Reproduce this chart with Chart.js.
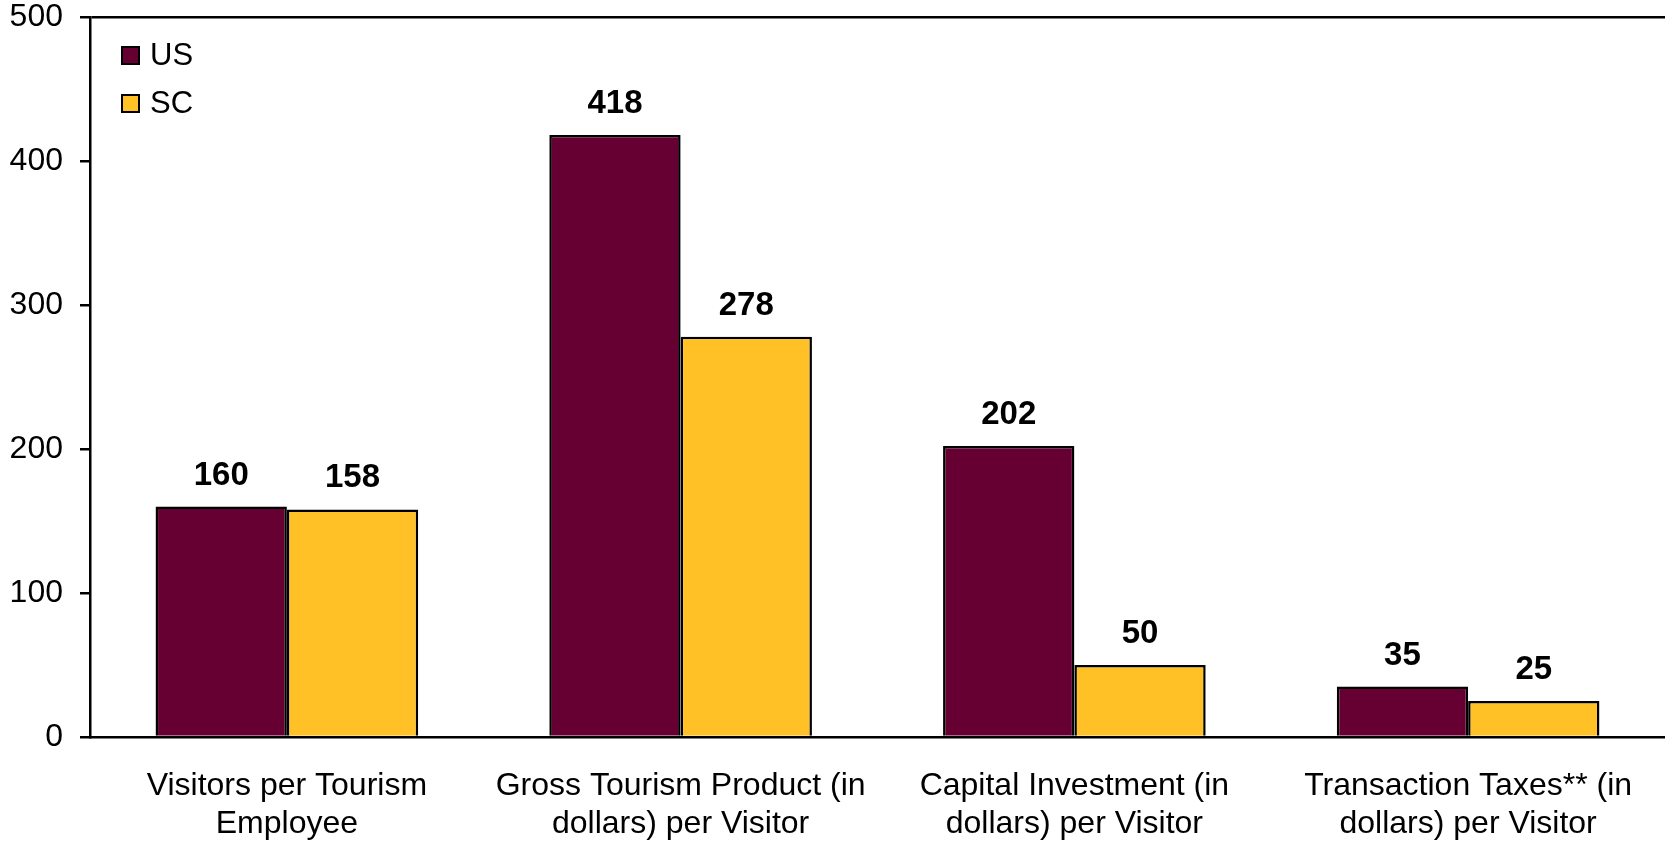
<!DOCTYPE html>
<html>
<head>
<meta charset="utf-8">
<script src="https://cdn.jsdelivr.net/npm/chart.js@4/dist/chart.umd.min.js"></script>
<style>
  html, body { margin: 0; padding: 0; background: #fff; }
  #wrap { width: 1665px; height: 842px; position: relative; }
</style>
</head>
<body>
<div id="wrap"><canvas id="tourism-chart"></canvas></div>
<script>
const categories = [
  ["Visitors per Tourism", "Employee"],
  ["Gross Tourism Product (in", "dollars) per Visitor"],
  ["Capital Investment (in", "dollars) per Visitor"],
  ["Transaction Taxes** (in", "dollars) per Visitor"],
];
const usValues = [160, 418, 202, 35];
const scValues = [158, 278, 50, 25];
const yTicks = [0, 100, 200, 300, 400, 500];

const FONT = "'Liberation Sans', Arial, sans-serif";

// numbers printed above each bar
const barValueLabels = {
  id: "barValueLabels",
  afterDatasetsDraw(chart) {
    const ctx = chart.ctx;
    ctx.save();
    ctx.font = `bold 33px ${FONT}`;
    ctx.fillStyle = "#000";
    ctx.textAlign = "center";
    ctx.textBaseline = "alphabetic";
    chart.data.datasets.forEach((ds, i) => {
      chart.getDatasetMeta(i).data.forEach((bar, j) => {
        ctx.fillText(String(ds.data[j]), bar.x, bar.y - 22);
      });
    });
    ctx.restore();
  },
};

// small boxed legend in the top-left corner of the plot
const cornerLegend = {
  id: "cornerLegend",
  afterDraw(chart) {
    const ctx = chart.ctx;
    const left = chart.chartArea.left + 32;
    let y = chart.chartArea.top + 38;
    ctx.save();
    ctx.font = `31px ${FONT}`;
    ctx.textBaseline = "middle";
    chart.data.datasets.forEach((ds) => {
      ctx.fillStyle = ds.backgroundColor;
      ctx.fillRect(left, y - 8, 17, 17);
      ctx.lineWidth = 2;
      ctx.strokeStyle = "#000";
      ctx.strokeRect(left, y - 8, 17, 17);
      ctx.fillStyle = "#000";
      ctx.fillText(ds.label, left + 28, y + 1);
      y += 48;
    });
    ctx.restore();
  },
};

new Chart("tourism-chart", {
  type: "bar",
  data: {
    labels: categories,
    datasets: [
      {
        label: "US",
        data: usValues,
        backgroundColor: "#660033",
        borderColor: "#000",
        borderWidth: 2.5,
      },
      {
        label: "SC",
        data: scValues,
        backgroundColor: "#FFC125",
        borderColor: "#000",
        borderWidth: 2.5,
      },
    ],
  },
  options: {
    responsive: true,
    maintainAspectRatio: false,
    animation: false,
    layout: { padding: { top: 17, right: 0, left: 0, bottom: 0 } },
    datasets: {
      bar: { barPercentage: 1, categoryPercentage: 0.667 },
    },
    plugins: {
      legend: { display: false },
      tooltip: { enabled: false },
    },
    scales: {
      x: {
        grid: { display: false },
        border: { display: true, color: "#000", width: 2.5 },
        ticks: {
          color: "#000",
          font: { family: FONT, size: 32, lineHeight: 1.2 },
          padding: 22,
          maxRotation: 0,
          autoSkip: false,
        },
        afterFit: (s) => {
          s.height = 105;
          s.paddingLeft = 0;
          s.paddingRight = 0;
        },
      },
      y: {
        min: 0,
        max: 500,
        afterBuildTicks: (s) => { s.ticks = yTicks.map((v) => ({ value: v })); },
        grid: {
          color: (c) => (c.tick && c.tick.value === 500 ? "#000" : "transparent"),
          tickColor: "#000",
          tickLength: 10,
          lineWidth: 2.5,
        },
        border: { display: true, color: "#000", width: 2.5 },
        ticks: {
          color: "#000",
          font: { family: FONT, size: 32 },
          padding: 17,
        },
        afterFit: (s) => {
          s.width = 90;
          s.paddingTop = 0;
          s.paddingBottom = 0;
        },
      },
    },
  },
  plugins: [barValueLabels, cornerLegend],
});
</script>
</body>
</html>
